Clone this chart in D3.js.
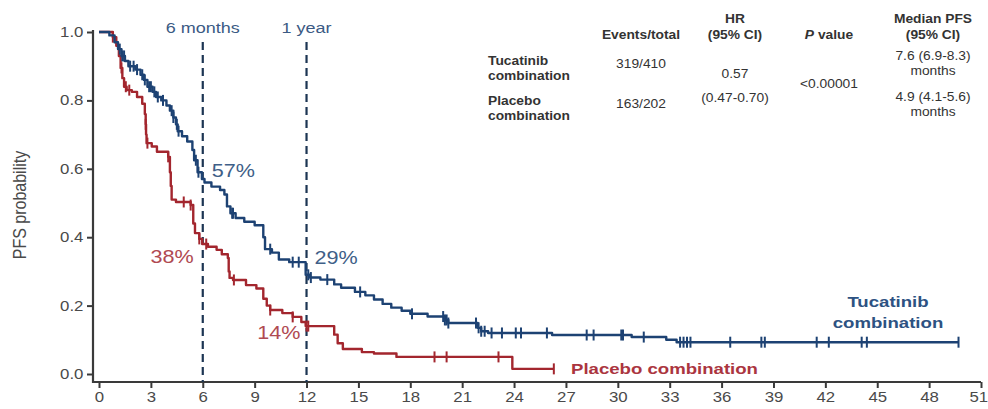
<!DOCTYPE html>
<html>
<head>
<meta charset="utf-8">
<script src="https://cdn.jsdelivr.net/npm/d3@7"></script>
<style>
  html, body { margin: 0; padding: 0; background: #fff; }
  svg { display: block; font-family: "Liberation Sans", Arial, sans-serif; }
</style>
</head>
<body>
<svg id="chart" width="988" height="409"></svg>
<script>
// Kaplan–Meier progression-free survival, two arms.
// Step curves: [month of drop, PFS probability after the drop]
const tucatinibSteps = [
  [0.6, 0.99], [0.9, 0.97], [1.1, 0.95], [1.3, 0.93], [1.5, 0.915], [1.7, 0.90],
  [2.1, 0.89], [2.4, 0.875], [2.6, 0.86], [2.8, 0.84], [3.1, 0.825], [3.3, 0.81],
  [3.6, 0.80], [3.9, 0.785], [4.1, 0.77], [4.3, 0.75], [4.45, 0.73], [4.55, 0.71],
  [4.8, 0.695], [5.1, 0.68], [5.4, 0.655], [5.5, 0.625], [5.7, 0.59], [5.95, 0.57],
  [6.1, 0.56], [6.5, 0.548], [7.0, 0.538], [7.25, 0.525], [7.4, 0.49], [7.6, 0.47],
  [7.9, 0.456], [8.4, 0.445], [9.0, 0.435], [9.5, 0.40], [9.6, 0.365], [10.0, 0.355],
  [10.4, 0.335], [11.0, 0.327], [11.95, 0.29], [12.2, 0.282], [12.8, 0.276],
  [13.6, 0.262], [14.0, 0.252], [14.8, 0.24], [15.4, 0.23], [15.9, 0.218],
  [16.4, 0.205], [16.9, 0.194], [17.5, 0.185], [18.0, 0.176], [19.0, 0.168],
  [20.0, 0.158], [20.2, 0.149], [21.9, 0.135], [22.1, 0.125], [22.5, 0.12],
  [26.2, 0.114], [30.8, 0.108], [32.8, 0.10], [33.4, 0.093]
];
const tucatinibEnd = 49.7;
const tucatinibCensored = [
  1.2, 1.35, 1.45, 1.8, 2.0, 2.2, 2.5, 2.65, 2.9, 3.0, 3.2, 3.4, 3.7, 4.2, 4.3, 4.5,
  4.6, 5.6, 5.75, 7.7, 7.75, 9.9, 11.2, 11.55, 12.1, 12.25, 13.2, 15.1, 18.1, 19.9,
  20.0, 20.1, 20.2, 21.8, 21.95, 22.1, 22.3, 22.7, 23.3, 24.1, 24.4, 25.9, 28.2,
  28.6, 30.2, 30.3, 31.5, 33.6, 33.8, 34.0, 34.2, 36.5, 38.3, 38.5, 41.5, 42.2,
  44.1, 44.4, 49.7
];

const placeboSteps = [
  [0.8, 0.985], [1.0, 0.96], [1.15, 0.93], [1.25, 0.895], [1.35, 0.865], [1.45, 0.84],
  [1.6, 0.83], [1.9, 0.825], [2.2, 0.81], [2.5, 0.79], [2.65, 0.76], [2.7, 0.73],
  [2.72, 0.70], [2.75, 0.675], [3.05, 0.665], [3.35, 0.65], [4.0, 0.635], [4.1, 0.59],
  [4.15, 0.55], [4.2, 0.51], [4.45, 0.503], [5.3, 0.494], [5.45, 0.44], [5.55, 0.412],
  [5.8, 0.395], [5.97, 0.38], [6.3, 0.372], [6.8, 0.363], [7.1, 0.35], [7.45, 0.339],
  [7.5, 0.30], [7.55, 0.281], [7.75, 0.275], [8.5, 0.26], [9.1, 0.25], [9.5, 0.22],
  [9.7, 0.20], [9.9, 0.187], [10.6, 0.178], [11.2, 0.167], [11.7, 0.152],
  [11.95, 0.14], [13.6, 0.115], [13.8, 0.09], [14.1, 0.073], [15.2, 0.064],
  [15.9, 0.06], [17.2, 0.05], [23.9, 0.015]
];
const placeboEnd = 26.3;
const placeboCensored = [
  0.8, 1.3, 1.55, 1.75, 2.7, 2.8, 4.0, 4.9, 5.3, 5.8, 6.2, 7.8, 9.9, 11.2, 12.0,
  12.1, 19.4, 20.1, 23.1, 26.3
];

const xTicks = d3.range(0, 52, 3);
const yTicks = [0, 0.2, 0.4, 0.6, 0.8, 1.0];

// Landmark time points with survival estimates
const landmarkMonths = [6, 12];
const landmarkLabels = ["6 months", "1 year"];
const landmarkTucatinib = [0.57, 0.29];
const landmarkPlacebo = [0.38, 0.14];

// Summary table
const tableHeaders = [["Events/total"], ["HR", "(95% CI)"], ["P value"], ["Median PFS", "(95% CI)"]];
const tableArms = [["Tucatinib", "combination"], ["Placebo", "combination"]];
const eventsTotal = ["319/410", "163/202"];
const hazardRatio = ["0.57", "(0.47-0.70)"];
const pValue = "<0.00001";
const medianPFS = [["7.6 (6.9-8.3)", "months"], ["4.9 (4.1-5.6)", "months"]];

const BLUE = "#1d4273";
const RED = "#a3262e";
const AXIS = "#3a3a3a";
const TXT = "#4a4a4a";
const SX = 1.2; // horizontal widening of the lettering

const svg = d3.select("#chart");
const x = d3.scaleLinear().domain([0, 51]).range([99, 981]);
const y = d3.scaleLinear().domain([0, 1]).range([374, 32]);
const axisX = 93, axisY = 382;

// Text placed at (px, py), widened horizontally
function label(parent, px, py, s, size, opts = {}) {
  const t = parent.append("text")
    .attr("transform", `translate(${px},${py}) scale(${opts.sx || SX},1)`)
    .attr("font-size", size)
    .attr("text-anchor", opts.anchor || "start")
    .attr("fill", opts.fill || TXT);
  if (opts.bold) t.attr("font-weight", "bold");
  if (s !== null) t.text(s);
  return t;
}

// Axes
const gx = svg.append("g").attr("transform", `translate(0,${axisY})`)
  .call(d3.axisBottom(x).tickValues(xTicks).tickSize(6).tickSizeOuter(0));
gx.select(".domain").remove();
gx.selectAll(".tick line").attr("stroke", AXIS).attr("stroke-width", 2);
gx.selectAll(".tick text").attr("fill", TXT).attr("font-size", 14)
  .attr("font-family", "Liberation Sans, Arial, sans-serif")
  .attr("y", 9).attr("dy", "0.8em").attr("transform", `scale(${SX},1)`);
// keep the last label inside the frame
gx.selectAll(".tick text").filter(d => d === 51)
  .attr("text-anchor", "end").attr("x", 5.5);

const gy = svg.append("g").attr("transform", `translate(${axisX},0)`)
  .call(d3.axisLeft(y).tickValues(yTicks).tickFormat(d3.format(".1f")).tickSize(6).tickSizeOuter(0));
gy.select(".domain").remove();
gy.selectAll(".tick line").attr("stroke", AXIS).attr("stroke-width", 2);
gy.selectAll(".tick text").attr("fill", TXT).attr("font-size", 14)
  .attr("font-family", "Liberation Sans, Arial, sans-serif")
  .attr("x", -8).attr("transform", `scale(${SX},1)`);

svg.append("path")
  .attr("d", `M${axisX},${y(1) - 2}V${axisY}H${x(51)}`)
  .attr("fill", "none").attr("stroke", AXIS).attr("stroke-width", 2.2);

svg.append("text")
  .attr("transform", `translate(26,${(y(0) + y(1)) / 2 + 2}) rotate(-90) scale(1,${SX})`)
  .attr("text-anchor", "middle").attr("font-size", 16).attr("fill", TXT)
  .text("PFS probability");

// Landmark dashed lines and labels
landmarkMonths.forEach((m, i) => {
  svg.append("line")
    .attr("x1", x(m)).attr("x2", x(m))
    .attr("y1", 42).attr("y2", axisY)
    .attr("stroke", "#1c3553").attr("stroke-width", 2.2)
    .attr("stroke-dasharray", "8,5");
  label(svg, x(m), 33, landmarkLabels[i], 15, { anchor: "middle", fill: "#3b5a84" });
});

// Survival curves
function survivalAt(steps, t) {
  let s = 1;
  for (const [m, p] of steps) { if (m <= t) s = p; else break; }
  return s;
}
function curvePoints(steps, end) {
  const pts = [[0, 1], ...steps];
  pts.push([end, steps[steps.length - 1][1]]);
  return pts;
}
const line = d3.line().x(d => x(d[0])).y(d => y(d[1])).curve(d3.curveStepAfter);

const arms = [
  { steps: placeboSteps, end: placeboEnd, cens: placeboCensored, color: RED },
  { steps: tucatinibSteps, end: tucatinibEnd, cens: tucatinibCensored, color: BLUE }
];
arms.forEach(a => {
  svg.append("path")
    .attr("d", line(curvePoints(a.steps, a.end)))
    .attr("fill", "none").attr("stroke", a.color).attr("stroke-width", 2.4)
    .attr("stroke-linejoin", "round");
  svg.append("g").selectAll("line").data(a.cens).join("line")
    .attr("x1", d => x(d)).attr("x2", d => x(d))
    .attr("y1", d => y(survivalAt(a.steps, d)) - 5.5)
    .attr("y2", d => y(survivalAt(a.steps, d)) + 5.5)
    .attr("stroke", a.color).attr("stroke-width", 2);
});

// Landmark percentages (offsets relative to the curve value)
const pctTucOffset = [[9, -2], [8, -11]];
const pctPlaOffset = [[-9, 19], [-6, 13]];
landmarkMonths.forEach((m, i) => {
  label(svg, x(m) + pctTucOffset[i][0], y(landmarkTucatinib[i]) + pctTucOffset[i][1],
    Math.round(landmarkTucatinib[i] * 100) + "%", 18, { fill: "#3f5f88" });
  label(svg, x(m) + pctPlaOffset[i][0], y(landmarkPlacebo[i]) + pctPlaOffset[i][1],
    Math.round(landmarkPlacebo[i] * 100) + "%", 18, { anchor: "end", fill: "#b04a52" });
});

// Arm labels
label(svg, 888, 307, "Tucatinib", 15.5, { anchor: "middle", bold: true, fill: "#2d5282" });
label(svg, 888, 328, "combination", 15.5, { anchor: "middle", bold: true, fill: "#2d5282" });
label(svg, 571, 374, "Placebo combination", 15.5, { bold: true, fill: "#ab3540" });

// Summary table
const colX = [641, 735, 829, 933];
const TF = 12, TSX = 1.15, TC = "#333";
const tbl = svg.append("g");
tableHeaders.forEach((h, i) => {
  const lines = h.length === 1 ? [null, h[0]] : h;
  lines.forEach((t, j) => {
    if (!t) return;
    const yy = 23 + j * 16;
    if (t === "P value") {
      const el = label(tbl, colX[i], yy, null, TF, { anchor: "middle", bold: true, fill: TC, sx: TSX });
      el.append("tspan").attr("font-style", "italic").text("P");
      el.append("tspan").text(" value");
    } else {
      label(tbl, colX[i], yy, t, TF, { anchor: "middle", bold: true, fill: TC, sx: TSX });
    }
  });
});
tableArms.forEach((arm, i) => {
  arm.forEach((t, j) => {
    label(tbl, 488, 65 + i * 40 + j * 15, t, TF, { bold: true, fill: TC, sx: TSX });
  });
  label(tbl, colX[0], 68 + i * 40, eventsTotal[i], TF, { anchor: "middle", fill: TC, sx: TSX });
  medianPFS[i].forEach((t, j) => {
    label(tbl, colX[3], 60 + i * 41 + j * 15, t, TF, { anchor: "middle", fill: TC, sx: TSX });
  });
});
hazardRatio.forEach((t, j) => {
  label(tbl, colX[1], 78 + j * 24, t, TF, { anchor: "middle", fill: TC, sx: TSX });
});
label(tbl, colX[2], 88, pValue, TF, { anchor: "middle", fill: TC, sx: TSX });
</script>
</body>
</html>
